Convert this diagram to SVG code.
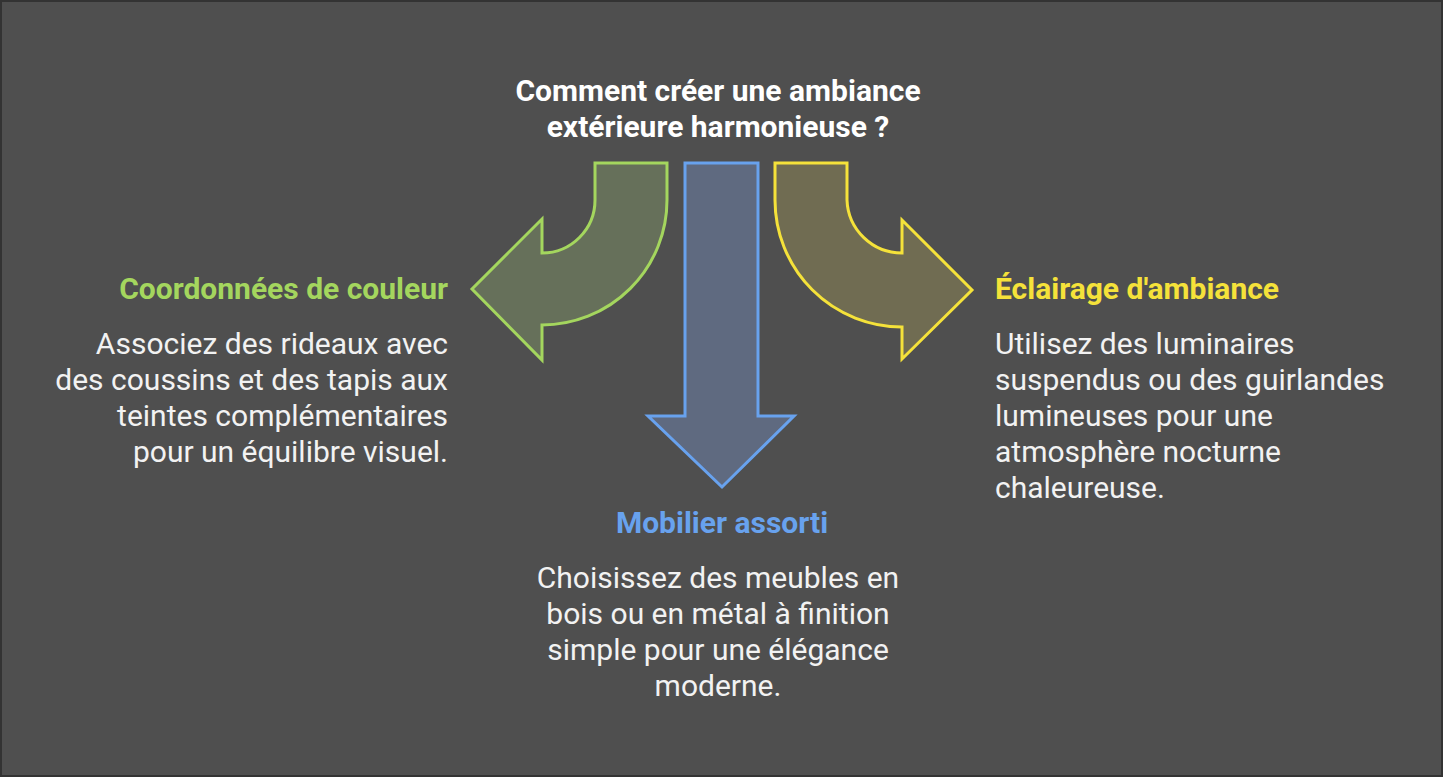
<svg xmlns="http://www.w3.org/2000/svg" width="1443" height="777" viewBox="0 0 1443 777">
<style>
text{font-family:Roboto,"Liberation Sans",sans-serif;}
.title{font-size:30px;font-weight:700;fill:#ffffff;}
.head{font-size:30px;font-weight:700;}
.body{font-size:30px;fill:#f2f2f2;}
.arrow{stroke-width:3;stroke-linejoin:miter;}
</style>
<rect x="1" y="1" width="1441" height="775" fill="#4f4f4f" stroke="#333333" stroke-width="2"/>
<g id="title">
<text class="title" x="718" y="101" text-anchor="middle">Comment créer une ambiance</text>
<text class="title" x="718" y="137" text-anchor="middle">extérieure harmonieuse ?</text>
</g>
<g id="connectors">
<path id="arrow-left" class="arrow" fill="#66705a" stroke="#a4d65e" d="M667,163 L667,200 A125,125 0 0 1 542,325 L542,360 L472,289 L542,219 L542,253 A53,53 0 0 0 595,200 L595,163 Z"/>
<path id="arrow-down" class="arrow" fill="#5f6a80" stroke="#68a2ee" d="M685,163 L758,163 L758,416 L794,416 L722,487 L648,416 L685,416 Z"/>
<path id="arrow-right" class="arrow" fill="#706c52" stroke="#f5e23a" d="M775,163 L775,200 A127,127 0 0 0 902,327 L902,359 L972,290 L902,220 L902,253 A55,55 0 0 1 847,200 L847,163 Z"/>
</g>
<g id="node-couleur">
<text class="head" x="448" y="299" text-anchor="end" fill="#a4d65e">Coordonnées de couleur</text>
<text class="body" text-anchor="end"><tspan x="448" y="354">Associez des rideaux avec</tspan><tspan x="448" y="390">des coussins et des tapis aux</tspan><tspan x="448" y="426">teintes complémentaires</tspan><tspan x="448" y="462">pour un équilibre visuel.</tspan></text>
</g>
<g id="node-mobilier">
<text class="head" x="722" y="533" text-anchor="middle" fill="#68a2ee">Mobilier assorti</text>
<text class="body" text-anchor="middle"><tspan x="718" y="588">Choisissez des meubles en</tspan><tspan x="718" y="624">bois ou en métal à finition</tspan><tspan x="718" y="660">simple pour une élégance</tspan><tspan x="718" y="696">moderne.</tspan></text>
</g>
<g id="node-eclairage">
<text class="head" x="995" y="299" fill="#f5e23a">Éclairage d'ambiance</text>
<text class="body"><tspan x="995" y="354">Utilisez des luminaires</tspan><tspan x="995" y="390">suspendus ou des guirlandes</tspan><tspan x="995" y="426">lumineuses pour une</tspan><tspan x="995" y="462">atmosphère nocturne</tspan><tspan x="995" y="498">chaleureuse.</tspan></text>
</g>
</svg>
